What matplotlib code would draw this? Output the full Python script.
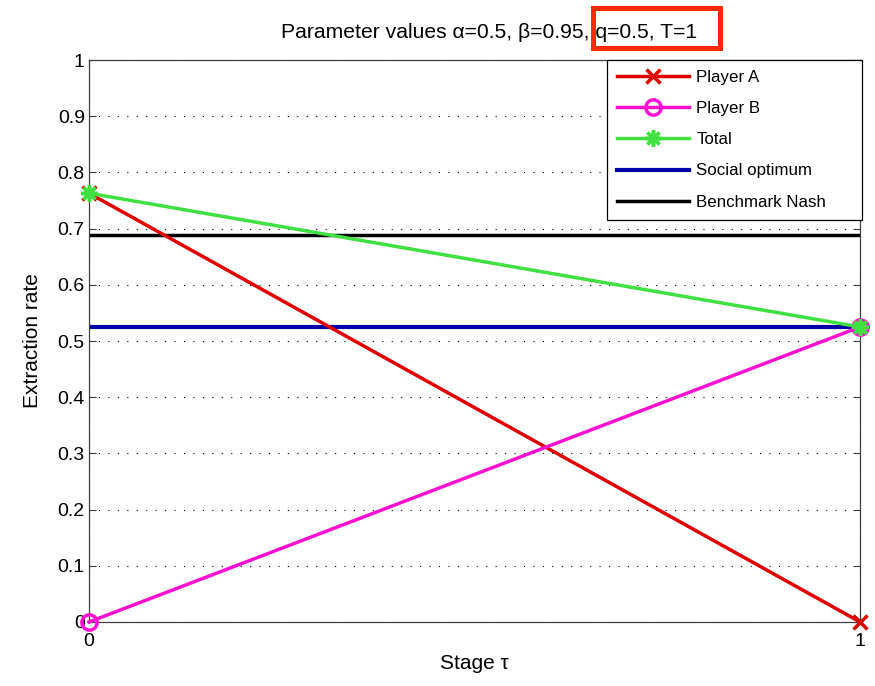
import matplotlib
matplotlib.use('Agg')
import matplotlib.pyplot as plt
from matplotlib.patches import Rectangle

plt.rcParams['font.family'] = ['Liberation Sans', 'DejaVu Sans']

# Data
stages = [0, 1]
player_a = [0.763, 0.0]
player_b = [0.0, 0.525]
total = [0.763, 0.525]
social_optimum = 0.525
benchmark_nash = 0.688

fig = plt.figure(figsize=(8.75, 6.86), dpi=100)
ax = fig.add_axes([0.1017, 0.0933, 0.8813, 0.8192])

ax.plot(stages, player_a, color='#e00000', lw=2.5, marker='x', ms=10, mew=2.5,
        label='Player A', clip_on=False, zorder=4)
ax.plot(stages, player_b, color='#ff10d0', lw=2.5, marker='o', ms=11, mew=2.5,
        mfc='none', label='Player B', clip_on=False, zorder=5)
ax.plot(stages, total, color='#40e040', lw=2.5, marker=(8, 2, 0), ms=12,
        mew=2.5, label='Total', clip_on=False, zorder=6)
ax.axhline(social_optimum, color='#0000a8', lw=3, label='Social optimum',
           zorder=2)
ax.axhline(benchmark_nash, color='black', lw=2.5, label='Benchmark Nash',
           zorder=2)

ax.set_xlim(0, 1)
ax.set_ylim(0, 1)
ax.set_xticks([0, 1])
ax.set_xticklabels(['0', '1'])
ax.set_yticks([i / 10 for i in range(11)])
ax.set_yticklabels(['0', '0.1', '0.2', '0.3', '0.4', '0.5', '0.6', '0.7',
                    '0.8', '0.9', '1'])
ax.tick_params(direction='in', labelsize=14, length=5, pad=3,
               top=True, right=True, color='#404040')
ax.tick_params(axis='x', pad=8)
ax.grid(True, color='black', linestyle=(0, (1, 7.5)), lw=0.8)
for s in ax.spines.values():
    s.set_linewidth(0.9)
    s.set_color('#404040')

ax.set_xlabel('Stage τ', fontsize=15, labelpad=3)
ax.set_ylabel('Extraction rate', fontsize=15, labelpad=11)
ax.set_title('Parameter values α=0.5, β=0.95, q=0.5, T=1', fontsize=15.2,
             pad=16, x=0.519)

leg = ax.legend(loc='upper right', fontsize=12.2, fancybox=False,
                edgecolor='black', framealpha=1, borderaxespad=0,
                bbox_to_anchor=(0.672, 0.0, 0.331, 1.0), mode='expand',
                handlelength=4.2, labelspacing=0.95, handletextpad=0.45,
                borderpad=0.6)
leg.get_frame().set_linewidth(0.9)

# red highlight box around "q=0.5, T=1"
fig.patches.append(Rectangle((592.5 / 875, 1 - 47.5 / 686), 127 / 875,
                             40 / 686, transform=fig.transFigure, fill=False,
                             edgecolor='#ff2a00', lw=3.6))

fig.savefig('out.png', dpi=100)
